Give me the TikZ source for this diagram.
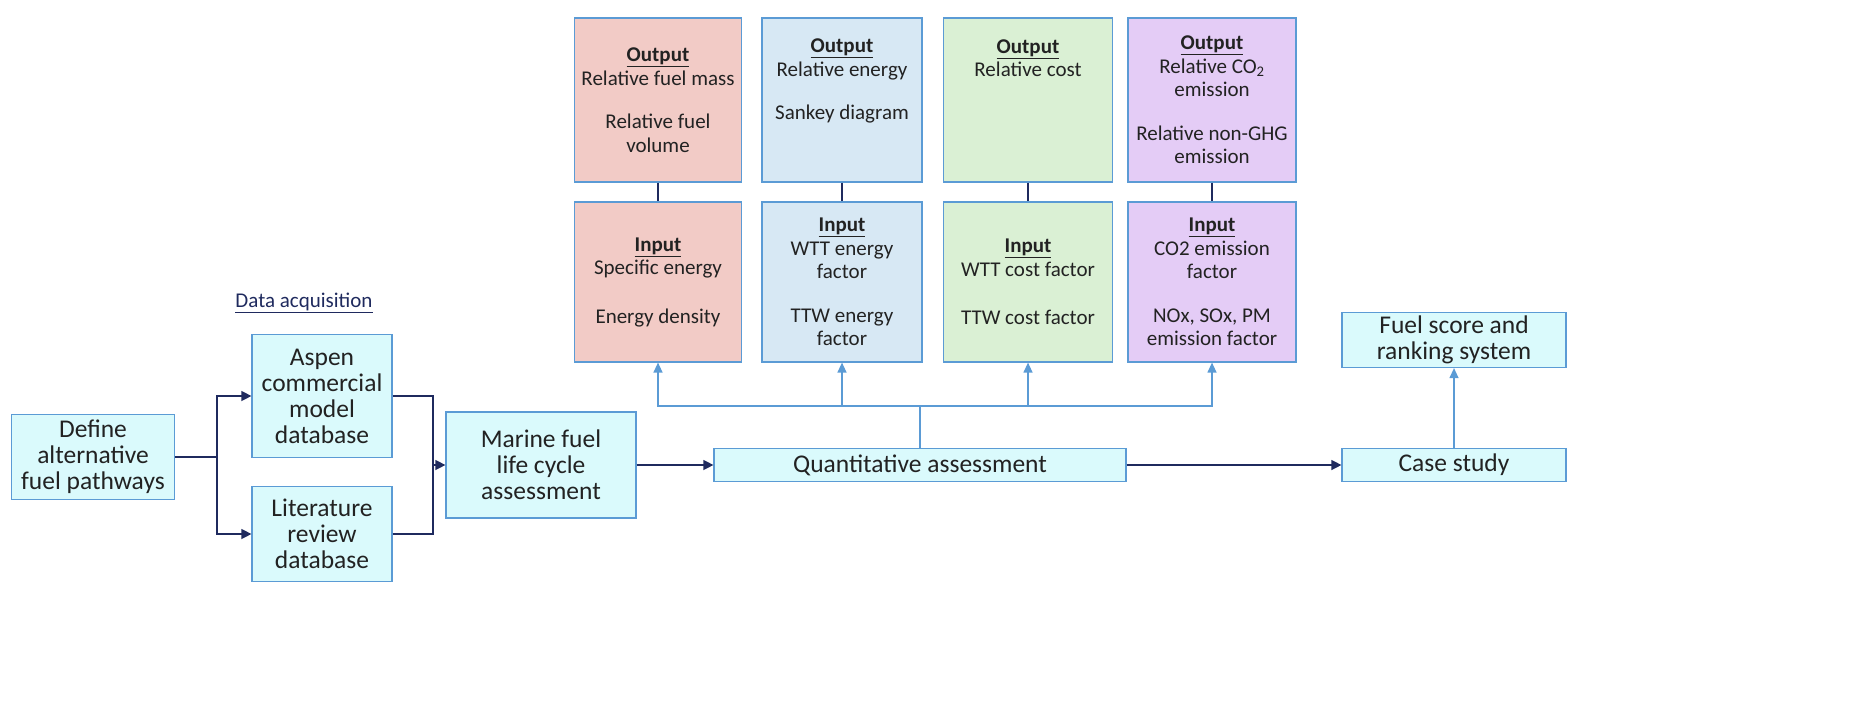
\documentclass[tikz,border=0pt]{standalone}
\usepackage{fontspec}
\setmainfont{Carlito}
\usetikzlibrary{arrows.meta}
\definecolor{bd}{HTML}{5B9BD5}
\definecolor{cy}{HTML}{DAFAFC}
\definecolor{nv}{HTML}{1F2A5E}
\definecolor{pk}{HTML}{F2CBC6}
\definecolor{lb}{HTML}{D7E8F4}
\definecolor{gr}{HTML}{DAF0D4}
\definecolor{pu}{HTML}{E4CCF6}
\definecolor{tx}{HTML}{222222}
\begin{document}
\begin{tikzpicture}[x=1pt,y=-1pt,
  box/.style={draw=bd,line width=1.2pt,fill=cy,align=center,inner sep=0pt,text=tx,font=\fontsize{25.5}{26}\selectfont},
  sbox/.style={draw=bd,line width=1.2pt,align=center,inner sep=0pt,text=tx,font=\fontsize{21}{23.5}\selectfont},
  nav/.style={draw=nv,line width=1.3pt},
  nar/.style={nav,-{Triangle[length=10pt,width=10pt]}},
  bar/.style={draw=bd,line width=1.3pt,-{Triangle[length=10pt,width=9pt]}}]
\useasboundingbox (0,0) rectangle (1876,718);
\node[box,minimum width=163pt,minimum height=85pt] (def) at (93,457) {Define\\alternative\\fuel pathways};
\node[box,minimum width=140pt,minimum height=123pt] (asp) at (322,396) {Aspen\\commercial\\model\\database};
\node[box,minimum width=140pt,minimum height=95pt] (lit) at (322,534) {Literature\\review\\database};
\node[text=nv,font=\fontsize{21}{24}\selectfont] (da) at (304,303) {\underline{Data acquisition}};
\node[box,minimum width=190pt,minimum height=106pt] (mar) at (541,465) {Marine fuel\\life cycle\\assessment};
\node[box,minimum width=412pt,minimum height=33pt] (qa) at (920,465) {Quantitative assessment};
\node[box,minimum width=224pt,minimum height=33pt] (cs) at (1454,465) {Case study};
\node[box,minimum width=224pt,minimum height=55pt] (fs) at (1454,340) {Fuel score and\\ranking system};
% top boxes
\node[sbox,fill=pk,minimum width=167pt,minimum height=164pt] (o1) at (658,100) {\textbf{\underline{Output}}\\Relative fuel mass\\[20pt]Relative fuel\\volume};
\node[sbox,fill=lb,minimum width=160pt,minimum height=164pt] (o2) at (842,100) {\textbf{\underline{Output}}\\Relative energy\\[20pt]Sankey diagram\\[18pt]};
\node[sbox,fill=gr,minimum width=169pt,minimum height=164pt] (o3) at (1028,100) {\textbf{\underline{Output}}\\Relative cost\\[60pt]};
\node[sbox,fill=pu,minimum width=168pt,minimum height=164pt] (o4) at (1212,100) {\textbf{\underline{Output}}\\Relative CO\textsubscript{2}\\emission\\[20pt]Relative non-GHG\\emission};
\node[sbox,fill=pk,minimum width=167pt,minimum height=160pt] (i1) at (658,282) {\textbf{\underline{Input}}\\Specific energy\\[25pt]Energy density};
\node[sbox,fill=lb,minimum width=160pt,minimum height=160pt] (i2) at (842,282) {\textbf{\underline{Input}}\\WTT energy\\factor\\[20pt]TTW energy\\factor};
\node[sbox,fill=gr,minimum width=169pt,minimum height=160pt] (i3) at (1028,282) {\textbf{\underline{Input}}\\WTT cost factor\\[25pt]TTW cost factor};
\node[sbox,fill=pu,minimum width=168pt,minimum height=160pt] (i4) at (1212,282) {\textbf{\underline{Input}}\\CO2 emission\\factor\\[20pt]NOx, SOx, PM\\emission factor};
\foreach \i in {1,...,4}{\draw[nav] (o\i) -- (i\i);}
% left connectors
\coordinate (sp) at (217,0);
\coordinate (mg) at (433,0);
\draw[nav] (def.east) -- (def.east -| sp);
\draw[nar] (def.east -| sp) |- (asp.west);
\draw[nar] (def.east -| sp) |- (lit.west);
\draw[nav] (asp.east) -| (mar.west -| mg);
\draw[nav] (lit.east) -| (mar.west -| mg);
\draw[nar] (mar.west -| mg) -- (mar.west);
\draw[nar] (mar.east) -- (qa.west);
\draw[nar] (qa.east) -- (cs.west);
\draw[bar] (cs) -- (fs);
\coordinate (hb) at (920,406);
\draw[draw=bd,line width=1.3pt] (qa.north) -- (hb);
\foreach \i in {1,...,4}{\draw[bar] (hb) -| (i\i.south);}
\end{tikzpicture}
\end{document}
